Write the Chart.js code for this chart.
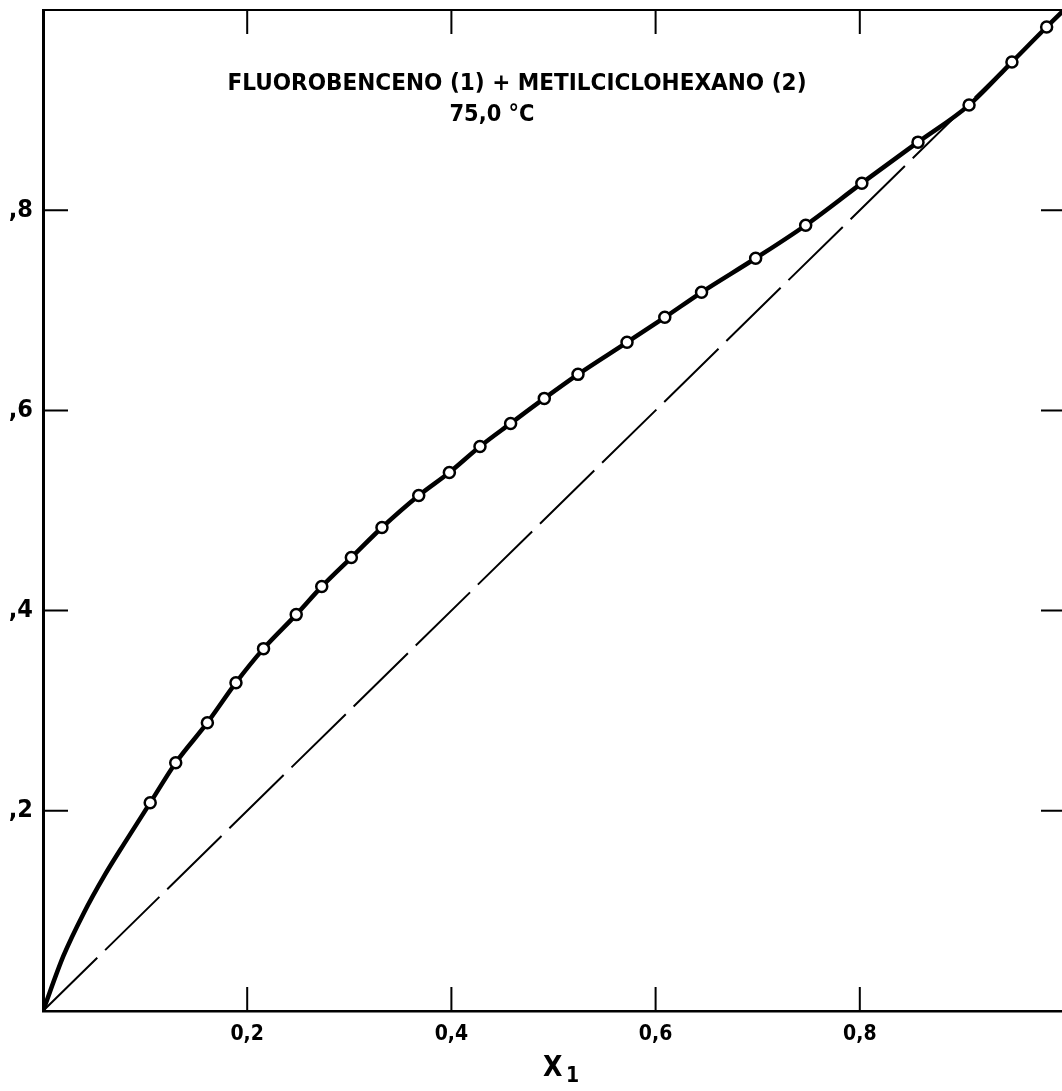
<!DOCTYPE html>
<html>
<head>
<meta charset="utf-8">
<script src="https://cdn.jsdelivr.net/npm/chart.js@4.4.1/dist/chart.umd.min.js"></script>
<style>
  html, body { margin: 0; padding: 0; background: #fff; overflow: hidden; }
  #caja { width: 1072px; height: 1091px; }
</style>
</head>
<body>
<div id="caja"><canvas id="grafico" width="1072" height="1091"></canvas></div>
<script>
// puntos experimentales: liquido x1, vapor y1
const x1 = [0.105, 0.130, 0.161, 0.189, 0.216, 0.248, 0.273, 0.302, 0.332, 0.368, 0.398, 0.428, 0.458, 0.491, 0.524, 0.572, 0.609, 0.645, 0.698, 0.747, 0.802, 0.857, 0.907, 0.949, 0.983];
const y1 = [0.208, 0.248, 0.288, 0.328, 0.362, 0.396, 0.424, 0.453, 0.483, 0.515, 0.538, 0.564, 0.587, 0.612, 0.636, 0.668, 0.693, 0.718, 0.752, 0.785, 0.827, 0.868, 0.905, 0.948, 0.983];

// tramo de la curva antes del primer punto y al final
const inicioX = [0, 0.02, 0.04, 0.06, 0.08];
const inicioY = [0, 0.055, 0.098, 0.135, 0.168];
const finX = [1.0];
const finY = [1.0];

// diagonal y = x
const diagX = [0, 1];
const diagY = [0, 1];

const ticksX = [0.2, 0.4, 0.6, 0.8];
const etiquetasX = ['0,2', '0,4', '0,6', '0,8'];
const ticksY = [0.2, 0.4, 0.6, 0.8];
const etiquetasY = [',2', ',4', ',6', ',8'];

const titulo1 = 'FLUOROBENCENO (1) + METILCICLOHEXANO (2)';
const titulo2 = '75,0 °C';

const fuente = "'Liberation Sans Narrow', 'DejaVu Sans Condensed', 'Roboto', sans-serif";

function pares(xs, ys) {
  return xs.map(function (x, i) {
    return { x: x, y: ys[i] };
  });
}

function textoAjustado(ctx, texto, cx, cy, ancho) {
  var w = ctx.measureText(texto).width;
  ctx.save();
  ctx.translate(cx, cy);
  ctx.scale(ancho / w, 1);
  ctx.fillText(texto, 0, 0);
  ctx.restore();
}

// marcas hacia dentro, borde superior y textos
const marco = {
  id: 'marco',
  afterDraw: function (chart) {
    const ctx = chart.ctx;
    const a = chart.chartArea;
    const sx = chart.scales.x;
    const sy = chart.scales.y;
    ctx.save();
    ctx.strokeStyle = '#000';
    ctx.lineWidth = 2;
    ctx.beginPath();
    ctx.moveTo(a.left, a.top);
    ctx.lineTo(a.right, a.top);
    ctx.stroke();

    ticksX.forEach(function (v) {
      var px = sx.getPixelForValue(v);
      ctx.beginPath();
      ctx.moveTo(px, a.top);
      ctx.lineTo(px, a.top + 24);
      ctx.moveTo(px, a.bottom);
      ctx.lineTo(px, a.bottom - 24);
      ctx.stroke();
    });
    ticksY.forEach(function (v) {
      var py = sy.getPixelForValue(v);
      ctx.beginPath();
      ctx.moveTo(a.left, py);
      ctx.lineTo(a.left + 25, py);
      ctx.moveTo(a.right, py);
      ctx.lineTo(a.right - 23, py);
      ctx.stroke();
    });

    ctx.fillStyle = '#000';
    ctx.textAlign = 'center';
    ctx.textBaseline = 'middle';
    ctx.font = 'bold 23px ' + fuente;
    textoAjustado(ctx, titulo1, 517, 84, 579);
    ctx.font = 'bold 23px ' + fuente;
    textoAjustado(ctx, titulo2, 492, 115, 85);

    // X1
    ctx.textAlign = 'left';
    ctx.font = 'bold 28px ' + fuente;
    ctx.fillText('X', 543, 1069);
    ctx.font = 'bold 21px ' + fuente;
    ctx.fillText('1', 566, 1077);
    ctx.restore();
  }
};

function graficar() {
  const ctx = document.getElementById('grafico').getContext('2d');
  const grafico = new Chart(ctx, {
    type: 'scatter',
    data: {
      datasets: [{
        label: 'puntos',
        data: pares(x1, y1),
        showLine: false,
        pointRadius: 5.5,
        pointBorderWidth: 2.5,
        pointBackgroundColor: '#fff',
        pointBorderColor: '#000'
      }, {
        label: 'curva',
        data: pares(inicioX.concat(x1, finX), inicioY.concat(y1, finY)),
        showLine: true,
        borderColor: '#000',
        borderWidth: 4.5,
        pointRadius: 0,
        cubicInterpolationMode: 'monotone'
      }, {
        label: 'diagonal',
        data: pares(diagX, diagY),
        showLine: true,
        borderColor: '#000',
        borderWidth: 2,
        borderDash: [76, 11],
        pointRadius: 0
      }]
    },
    options: {
      responsive: false,
      animation: false,
      layout: { padding: { top: 10, right: 4, left: 0, bottom: 0 } },
      plugins: {
        legend: { display: false },
        tooltip: { enabled: false },
        title: { display: false }
      },
      scales: {
        x: {
          type: 'linear',
          min: 0,
          max: 1,
          afterFit: function (s) {
            s.height = 80;
            s.paddingLeft = 0;
            s.paddingRight = 0;
          },
          afterBuildTicks: function (s) {
            s.ticks = ticksX.map(function (v) { return { value: v }; });
          },
          ticks: {
            callback: function (v, i) { return etiquetasX[i]; },
            font: { family: fuente, size: 21, weight: 'bold' },
            color: '#000',
            padding: 11,
            maxRotation: 0,
            autoSkip: false
          },
          grid: { drawOnChartArea: false, drawTicks: false },
          border: { display: true, width: 2.5, color: '#000' }
        },
        y: {
          type: 'linear',
          min: 0,
          max: 1,
          afterFit: function (s) {
            s.width = 43;
            s.paddingTop = 0;
            s.paddingBottom = 0;
          },
          afterBuildTicks: function (s) {
            s.ticks = ticksY.map(function (v) { return { value: v }; });
          },
          ticks: {
            callback: function (v, i) { return etiquetasY[i]; },
            font: { family: fuente, size: 25, weight: 'bold' },
            color: '#000',
            padding: 10,
            autoSkip: false
          },
          grid: { drawOnChartArea: false, drawTicks: false },
          border: { display: true, width: 3, color: '#000' }
        }
      }
    },
    plugins: [marco]
  });
}

graficar();
</script>
</body>
</html>
